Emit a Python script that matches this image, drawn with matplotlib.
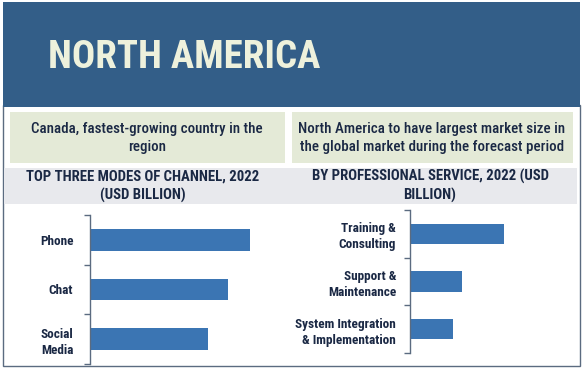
import matplotlib
matplotlib.use("Agg")
import matplotlib.pyplot as plt
from matplotlib.patches import Rectangle
from matplotlib import font_manager

_names = {f.name for f in font_manager.fontManager.ttflist}
def pick(prefs, default="DejaVu Sans"):
    for p in prefs:
        if p in _names:
            return p
    return default

COND = pick(["Roboto Condensed", "Arial Narrow", "Liberation Sans Narrow", "PT Sans Narrow",
             "Archivo Narrow", "Fira Sans Condensed", "IBM Plex Sans Condensed",
             "Open Sans Condensed", "Barlow Condensed", "Oswald"])

title = "NORTH AMERICA"
left_note = "Canada, fastest-growing country in the\nregion"
right_note = "North America to have largest market size in\nthe global market during the forecast period"
left_title = "TOP THREE MODES OF CHANNEL, 2022\n(USD BILLION)"
right_title = "BY PROFESSIONAL SERVICE, 2022 (USD\nBILLION)"

channel_cats = ["Phone", "Chat", "Social\nMedia"]
channel_vals = [1.60, 1.38, 1.18]
service_cats = ["Training &\nConsulting", "Support &\nMaintenance", "System Integration\n& Implementation"]
service_vals = [0.94, 0.52, 0.43]

W, H = 583, 370
fig = plt.figure(figsize=(W / 100, H / 100), dpi=100)
fig.patch.set_facecolor("white")

NAVY = "#1a2844"
BAR = "#3b75b3"

def rect(x0, y0, x1, y1, **kw):
    fig.add_artist(Rectangle((x0 / W, 1 - y1 / H), (x1 - x0) / W, (y1 - y0) / H,
                             transform=fig.transFigure, zorder=-5, **kw))

def txt(x, y, s, **kw):
    fig.text(x / W, 1 - y / H, s, **kw)

# frame of white area
rect(3, 105, 580, 366, facecolor="white", edgecolor="#5b6b80", linewidth=1.0)
# header
rect(3, 2, 580, 107, facecolor="#335e88", edgecolor="none")
txt(48, 57, title, color="#eef1dc", fontsize=28, fontweight="bold", family=COND,
    ha="left", va="center")

# green notes
rect(10, 112, 285, 163, facecolor="#e4ead7", edgecolor="none")
rect(292, 112, 573, 163, facecolor="#e4ead7", edgecolor="none")
txt(147, 138, left_note, color=NAVY, fontsize=10.8, family=COND, ha="center", va="center",
    linespacing=1.45, fontweight="medium")
txt(432, 138, right_note, color=NAVY, fontsize=10.8, family=COND, ha="center", va="center",
    linespacing=1.45, fontweight="medium")

# gray band
rect(4, 168, 577, 204, facecolor="#e8e9ed", edgecolor="none")
txt(143, 186, left_title, color=NAVY, fontsize=10.6, fontweight="bold", family=COND,
    ha="center", va="center", linespacing=1.4)
txt(430, 186, right_title, color=NAVY, fontsize=10.6, fontweight="bold", family=COND,
    ha="center", va="center", linespacing=1.4)

def make_ax(x0, x1, y0, y1, cats, vals, xmax, h, pad):
    ax = fig.add_axes([x0 / W, 1 - y1 / H, (x1 - x0) / W, (y1 - y0) / H])
    pos = list(range(len(cats)))
    ax.barh(pos, vals, height=h, color=BAR)
    ax.set_ylim(len(cats) - 0.5, -0.5)
    ax.set_xlim(0, xmax)
    ax.set_yticks([p - 0.5 for p in pos] + [len(cats) - 0.5], minor=False)
    ax.set_yticklabels([])
    ax.set_yticks(pos, minor=True)
    ax.set_yticklabels(cats, minor=True)
    ax.tick_params(axis="y", which="major", length=4, width=1, color="#5b6b80")
    ax.tick_params(axis="y", which="minor", length=0, pad=pad, labelsize=9.5,
                   labelcolor=NAVY)
    for lab in ax.get_yticklabels(minor=True):
        lab.set_fontfamily(COND)
        lab.set_fontweight("bold")
        lab.set_linespacing(1.3)
        lab.set_ha("right")
    ax.set_xticks([])
    for s in ["top", "right", "bottom"]:
        ax.spines[s].set_visible(False)
    ax.spines["left"].set_color("#5b6b80")
    ax.spines["left"].set_linewidth(1)
    ax.patch.set_alpha(0)
    return ax

make_ax(90, 290, 215, 364, channel_cats, channel_vals, 2.0, 0.43, 12)
make_ax(410, 578, 210, 353, service_cats, service_vals, 1.68, 0.42, 10)

fig.savefig("out.png", dpi=100)
